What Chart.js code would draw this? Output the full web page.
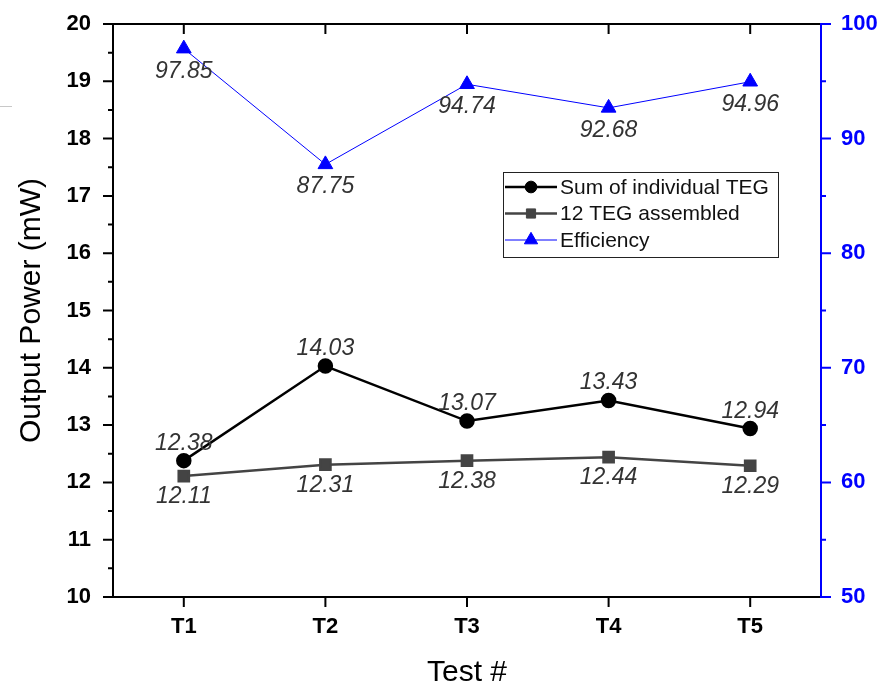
<!DOCTYPE html>
<html><head><meta charset="utf-8">
<script src="https://cdn.jsdelivr.net/npm/chart.js@4"></script>
<style>html,body{margin:0;padding:0;background:#fff}#wrap{width:883px;height:685px;position:relative}</style>
</head><body><div id="wrap"><canvas id="c"></canvas></div>
<script>
const categories = ['T1', 'T2', 'T3', 'T4', 'T5'];
const sumIndividual = [12.38, 14.03, 13.07, 13.43, 12.94];
const assembled = [12.11, 12.31, 12.38, 12.44, 12.29];
const efficiency = [97.85, 87.75, 94.74, 92.68, 94.96];
const leftRange = [10, 20, 1];
const rightRange = [50, 100, 10];
const seriesNames = ['Sum of individual TEG', '12 TEG assembled', 'Efficiency'];
const labelPlacement = ['above', 'below', 'below'];

const FONT = "'Liberation Sans', Arial, Helvetica, sans-serif";
const BLUE = '#0000ff';

const framePlugin = {
  id: 'frame',
  afterDatasetsDraw(chart) {
    const ctx = chart.ctx, a = chart.chartArea;
    const xs = chart.scales.x, ys = chart.scales.y, y2 = chart.scales.y2;
    ctx.save();
    // data labels
    ctx.font = "italic 23px " + FONT;
    ctx.fillStyle = '#333333';
    ctx.textAlign = 'center';
    ctx.textBaseline = 'alphabetic';
    chart.data.datasets.forEach((ds, di) => {
      const meta = chart.getDatasetMeta(di);
      meta.data.forEach((pt, i) => {
        const txt = ds.data[i].toFixed(2);
        if (labelPlacement[di] === 'above') ctx.fillText(txt, pt.x, pt.y - 11);
        else ctx.fillText(txt, pt.x, pt.y + (di === 2 ? 29 : 27));
      });
    });
    // frame lines
    ctx.lineWidth = 2;
    ctx.strokeStyle = '#000';
    ctx.beginPath();
    ctx.moveTo(a.left, a.top); ctx.lineTo(a.right, a.top);
    ctx.moveTo(a.left, a.top - 1); ctx.lineTo(a.left, a.bottom);
    ctx.moveTo(a.left - 1, a.bottom); ctx.lineTo(a.right, a.bottom);
    ctx.stroke();
    // left ticks
    ctx.beginPath();
    for (let k = 0; k <= (leftRange[1] - leftRange[0]) / leftRange[2] * 2; k++) {
      const v = leftRange[0] + k * leftRange[2] / 2;
      const py = ys.getPixelForValue(v);
      const len = k % 2 === 0 ? 10 : 5;
      ctx.moveTo(a.left - len, py); ctx.lineTo(a.left, py);
    }
    // x ticks bottom (outward) & top (inward)
    categories.forEach((c, i) => {
      const px = xs.getPixelForValue(i);
      ctx.moveTo(px, a.bottom); ctx.lineTo(px, a.bottom + 10);
      ctx.moveTo(px, a.top); ctx.lineTo(px, a.top + 10);
    });
    ctx.stroke();
    // right axis
    ctx.strokeStyle = BLUE;
    ctx.beginPath();
    ctx.moveTo(a.right, a.top - 1); ctx.lineTo(a.right, a.bottom + 1);
    for (let k = 0; k <= (rightRange[1] - rightRange[0]) / rightRange[2] * 2; k++) {
      const v = rightRange[0] + k * rightRange[2] / 2;
      const py = y2.getPixelForValue(v);
      const len = k % 2 === 0 ? 10 : 5;
      ctx.moveTo(a.right, py); ctx.lineTo(a.right + len, py);
    }
    ctx.stroke();
    // stray mark at left edge
    ctx.strokeStyle = '#c8c8c8'; ctx.lineWidth = 1;
    ctx.beginPath(); ctx.moveTo(0, 106.5); ctx.lineTo(12, 106.5); ctx.stroke();
    // legend
    const lx = 503, ly = 172, lw = 275, lh = 85;
    ctx.fillStyle = '#fff';
    ctx.fillRect(lx, ly, lw, lh);
    ctx.strokeStyle = '#222'; ctx.lineWidth = 1;
    ctx.strokeRect(lx + 0.5, ly + 0.5, lw, lh);
    ctx.font = "21px " + FONT;
    ctx.textAlign = 'left';
    ctx.textBaseline = 'middle';
    chart.data.datasets.forEach((ds, di) => {
      const ry = ly + 15 + di * 26.5;
      ctx.strokeStyle = ds.borderColor; ctx.lineWidth = ds.borderWidth;
      ctx.beginPath(); ctx.moveTo(lx + 2, ry); ctx.lineTo(lx + 54, ry); ctx.stroke();
      ctx.fillStyle = ds.pointBackgroundColor; ctx.strokeStyle = ds.pointBorderColor; ctx.lineWidth = 1;
      Chart.helpers.drawPoint(ctx, {pointStyle: ds.pointStyle, radius: ds.pointRadius * 0.9, rotation: 0, borderWidth: 1}, lx + 28, ry);
      ctx.fillStyle = '#111';
      ctx.fillText(ds.label, lx + 57, ry + 1);
    });
    ctx.restore();
  }
};

function fixV(width) {
  return function (s) { s.width = width; s.paddingTop = 0; s.paddingBottom = 0; };
}

new Chart(document.getElementById('c'), {
  type: 'line',
  data: {
    labels: categories,
    datasets: [
      {label: seriesNames[0], data: sumIndividual, yAxisID: 'y', borderColor: '#000', backgroundColor: '#000',
       pointBackgroundColor: '#000', pointBorderColor: '#000', borderWidth: 2.5, pointStyle: 'circle', pointRadius: 6.5, tension: 0},
      {label: seriesNames[1], data: assembled, yAxisID: 'y', borderColor: '#444444', backgroundColor: '#444444',
       pointBackgroundColor: '#444444', pointBorderColor: '#444444', borderWidth: 2.5, pointStyle: 'rect', pointRadius: 7.2, tension: 0},
      {label: seriesNames[2], data: efficiency, yAxisID: 'y2', borderColor: BLUE, backgroundColor: BLUE,
       pointBackgroundColor: BLUE, pointBorderColor: BLUE, borderWidth: 1, pointStyle: 'triangle', pointRadius: 8.5, tension: 0}
    ]
  },
  options: {
    responsive: true, maintainAspectRatio: false, animation: false,
    layout: {padding: {top: 24, left: 0, right: 0, bottom: 0}, autoPadding: false},
    plugins: {legend: {display: false}, tooltip: {enabled: false}},
    elements: {point: {hoverRadius: 0}},
    scales: {
      x: {
        type: 'category', offset: true,
        grid: {display: false, drawTicks: false}, border: {display: false},
        ticks: {font: {family: FONT, size: 22, weight: 'bold'}, color: '#000', padding: 17},
        title: {display: true, text: 'Test #', color: '#000', font: {family: FONT, size: 30, lineHeight: 1}, padding: {top: 0, bottom: -3}},
        afterFit(s) { s.height = 88; s.paddingLeft = 0; s.paddingRight = 0; }
      },
      y: {
        position: 'left', min: leftRange[0], max: leftRange[1],
        grid: {display: false, drawTicks: false}, border: {display: false},
        ticks: {stepSize: leftRange[2], font: {family: FONT, size: 22, weight: 'bold'}, color: '#000', padding: 22},
        title: {display: true, text: 'Output Power (mW)', color: '#000', font: {family: FONT, size: 30, lineHeight: 1}, padding: {top: 17, bottom: 0}},
        afterFit: fixV(113)
      },
      y2: {
        position: 'right', min: rightRange[0], max: rightRange[1],
        grid: {display: false, drawTicks: false}, border: {display: false},
        ticks: {stepSize: rightRange[2], font: {family: FONT, size: 22, weight: 'bold'}, color: BLUE, padding: 20},
        afterFit: fixV(62)
      }
    }
  },
  plugins: [framePlugin]
});
</script>
</body></html>
